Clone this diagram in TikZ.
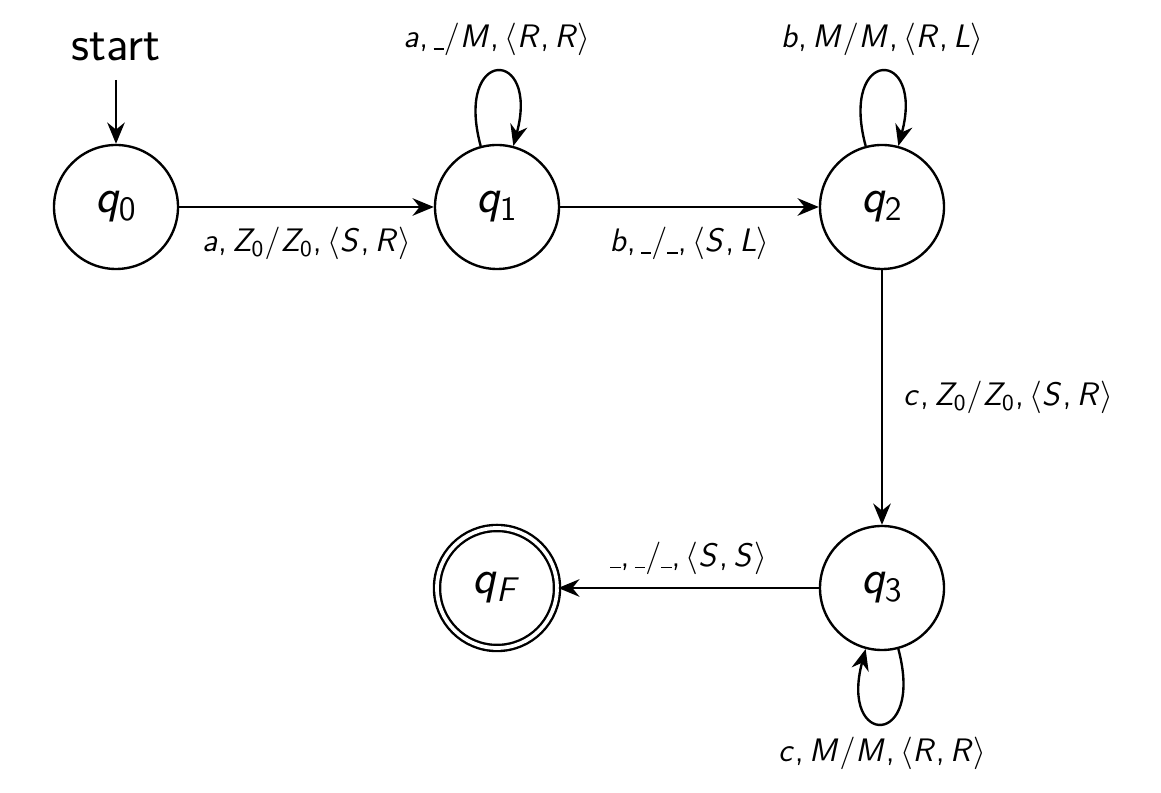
\RequirePackage{fix-cm}
\documentclass[tikz,border=0pt]{standalone}
\usetikzlibrary{arrows.meta}
\SetSymbolFont{operators}{normal}{OT1}{cmss}{m}{n}
\DeclareSymbolFont{sfletters}{OT1}{cmss}{m}{sl}
\DeclareMathSymbol{a}{\mathalpha}{sfletters}{`a}
\DeclareMathSymbol{b}{\mathalpha}{sfletters}{`b}
\DeclareMathSymbol{c}{\mathalpha}{sfletters}{`c}
\DeclareMathSymbol{q}{\mathalpha}{sfletters}{`q}
\DeclareMathSymbol{F}{\mathalpha}{sfletters}{`F}
\DeclareMathSymbol{L}{\mathalpha}{sfletters}{`L}
\DeclareMathSymbol{M}{\mathalpha}{sfletters}{`M}
\DeclareMathSymbol{R}{\mathalpha}{sfletters}{`R}
\DeclareMathSymbol{S}{\mathalpha}{sfletters}{`S}
\DeclareMathSymbol{Z}{\mathalpha}{sfletters}{`Z}
\DeclareMathSymbol{/}{\mathord}{operators}{`/}
\DeclareMathSymbol{,}{\mathpunct}{operators}{`,}
\newcommand{\blankch}{\mathord{\mbox{\rule[-0.9pt]{0.32em}{0.5pt}}}}
\begin{document}
\begin{tikzpicture}[x=0.4pt,y=0.4pt,
  >={Stealth[length=8.5pt,width=7pt,inset=2.8pt]},
  statenode/.style={circle,draw,line width=0.95pt,minimum size=49.6pt,inner sep=0pt,font=\fontsize{19.5}{22}\selectfont},
  acceptnode/.style={statenode,minimum size=48pt,double,double distance=1.5pt},
  edgelabel/.style={font=\fontsize{13}{15}\selectfont,inner sep=0pt},
  trans/.style={->,line width=0.95pt}]
\useasboundingbox (0,0) rectangle (1161,793);
\node[statenode] (q0) at (116,586) {$q_0$};
\node[statenode] (q1) at (497,586) {$q_1$};
\node[statenode] (q2) at (882,586) {$q_2$};
\node[statenode] (q3) at (882,205) {$q_3$};
\node[acceptnode] (qF) at (497,205) {$q_F$};
\node[font=\sffamily\fontsize{20}{24}\selectfont,inner sep=0pt] (start) at (116,746) {start};
\coordinate (s0) at (116,713);
\draw[trans] (s0) -- (q0);
\draw[trans] (q0) -- node[edgelabel,below=7.5pt] {$a, Z_0/Z_0, \langle S, R\rangle$} (q1);
\draw[trans] (q1) -- node[edgelabel,below=7.5pt] {$b, \blankch/\blankch, \langle S, L\rangle$} (q2);
\draw[trans] (q2) -- node[edgelabel,right=8pt] {$c, Z_0/Z_0, \langle S, R\rangle$} (q3);
\draw[trans] (q3) -- node[edgelabel,above=5pt] {$\blankch, \blankch/\blankch, \langle S, S\rangle$} (qF);
\draw[trans] (q1) to[out=105,in=75,distance=41pt] node[edgelabel,above=6pt] {$a, \blankch/M, \langle R, R\rangle$} (q1);
\draw[trans] (q2) to[out=105,in=75,distance=41pt] node[edgelabel,above=6pt] {$b, M/M, \langle R, L\rangle$} (q2);
\draw[trans] (q3) to[out=-75,in=-105,distance=41pt] node[edgelabel,below=5pt] {$c, M/M, \langle R, R\rangle$} (q3);
\end{tikzpicture}
\end{document}
